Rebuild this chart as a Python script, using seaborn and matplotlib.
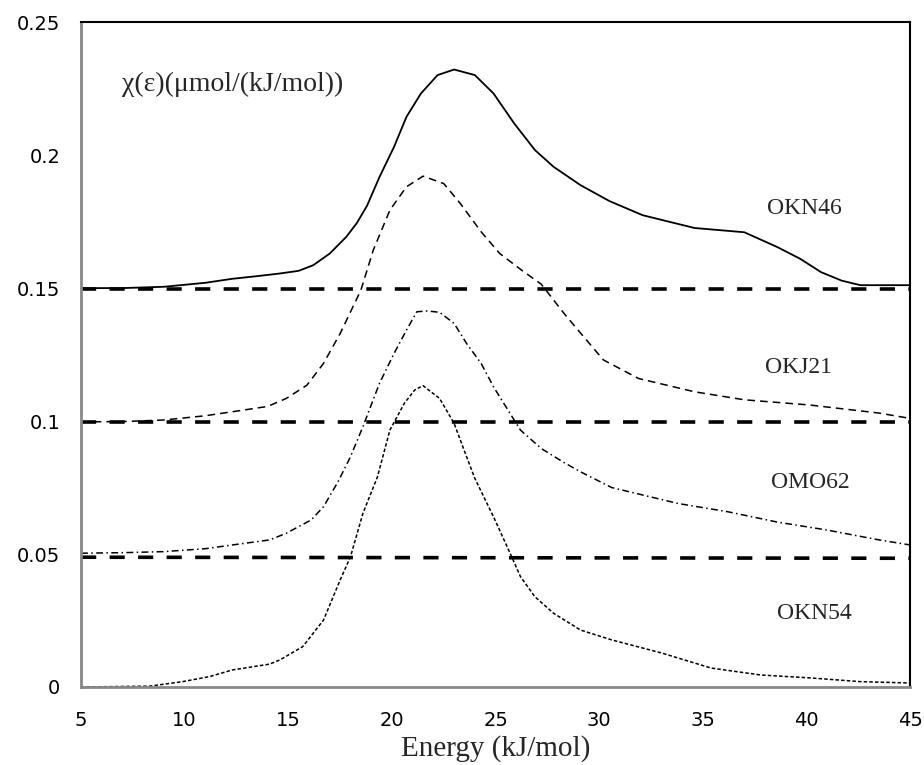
import matplotlib
matplotlib.use("Agg")
import matplotlib.pyplot as plt
import seaborn as sns
import pandas as pd

# ---- data ----
okn46_x = [5, 7, 9, 11, 12.3, 13.5, 14.6, 15.5, 16.2, 17.0, 17.8, 18.3, 18.8, 19.4, 20.1, 20.7,
           21.4, 22.2, 23.0, 24.0, 24.9, 25.9, 26.9, 27.8, 29.1, 30.5, 32.1, 34.6, 37.0, 38.6,
           39.7, 40.7, 41.7, 42.6, 45]
okn46_y = [0.150, 0.150, 0.1505, 0.152, 0.1535, 0.1545, 0.1555, 0.1565, 0.1586, 0.163, 0.1693,
           0.1744, 0.181, 0.1918, 0.2031, 0.2144, 0.2232, 0.2301, 0.2322, 0.2301, 0.2232, 0.2119,
           0.2019, 0.1956, 0.1887, 0.1827, 0.1774, 0.1726, 0.171, 0.1654, 0.161, 0.156, 0.1528,
           0.1511, 0.1511]

okj21_x = [5, 7, 9, 11, 12.3, 14, 14.9, 15.9, 16.7, 17.5, 18.5, 19.1, 19.9, 20.7, 21.5, 22.5,
           23.3, 24.3, 25.2, 26.3, 27.2, 28.3, 29.0, 30.2, 31.9, 34.6, 37.0, 40.2, 43.5, 45]
okj21_y = [0.0997, 0.0998, 0.1004, 0.102, 0.1035, 0.1055, 0.1085, 0.1135, 0.1217, 0.1329,
           0.1492, 0.1643, 0.1793, 0.1881, 0.1921, 0.1893, 0.1818, 0.1712, 0.163, 0.1565, 0.1515,
           0.1405, 0.134, 0.123, 0.116, 0.111, 0.108, 0.106, 0.103, 0.101]

omo62_x = [5, 7, 9, 11, 12.3, 14.1, 14.9, 16.1, 16.7, 17.4, 18.0, 18.6, 19.4, 20.1, 20.7, 21.2,
           21.7, 22.3, 23.0, 23.6, 24.3, 24.9, 25.6, 26.2, 27.2, 28.3, 29.1, 30.6, 33.8, 36.2,
           38.6, 41.0, 43.5, 45]
omo62_y = [0.0503, 0.0505, 0.0509, 0.052, 0.0534, 0.0553, 0.0578, 0.0628, 0.0678, 0.0772,
           0.0866, 0.0979, 0.1142, 0.1254, 0.1342, 0.1411, 0.1414, 0.1409, 0.1367, 0.1292, 0.1217,
           0.1129, 0.1041, 0.0966, 0.0897, 0.0844, 0.0809, 0.075, 0.069, 0.0659, 0.062, 0.059,
           0.0553, 0.0534]

okn54_x = [5, 8.3, 9.9, 11.2, 12.3, 14.1, 14.6, 15.7, 16.7, 17.5, 18.0, 18.6, 19.3, 19.9, 20.6,
           21.1, 21.5, 22.3, 23.0, 23.6, 24.0, 24.9, 25.7, 26.2, 26.9, 27.8, 29.1, 30.6, 33.0,
           35.4, 37.8, 40.2, 42.6, 45]
okn54_y = [0, 0.0003, 0.002, 0.0039, 0.0064, 0.0086, 0.0102, 0.0152, 0.0252, 0.0402, 0.049,
           0.0653, 0.079, 0.0966, 0.1067, 0.1117, 0.1133, 0.1085, 0.0991, 0.0866, 0.0784, 0.064,
           0.0503, 0.0415, 0.0339, 0.0277, 0.0214, 0.0177, 0.0128, 0.0071, 0.0045, 0.0034, 0.002,
           0.0015]

base_x = [5, 45]
base1_y = [0.1495, 0.1495]
base2_y = [0.0995, 0.0995]
base3_y = [0.0488, 0.0484]

series_names = ["OKN46", "OKJ21", "OMO62", "OKN54"]
label_x = [39.9, 39.6, 40.2, 40.4]
label_y = [0.180, 0.120, 0.077, 0.0278]

x_ticks = [5, 10, 15, 20, 25, 30, 35, 40, 45]
y_ticks = [0, 0.05, 0.1, 0.15, 0.2, 0.25]
y_tick_labels = ["0", "0.05", "0.1", "0.15", "0.2", "0.25"]

# ---- plot ----
sns.set_style("white")
fig = plt.figure(figsize=(9.24, 7.65), dpi=100)
ax = fig.add_axes([0.0877, 0.102, 0.8973, 0.869])

serif = ["Liberation Serif", "DejaVu Serif"]

def line(xs, ys, **kw):
    df = pd.DataFrame({"x": xs, "y": ys})
    sns.lineplot(data=df, x="x", y="y", ax=ax, color="black", sort=False,
                 estimator=None, **kw)

dash_kw = dict(linewidth=2.6, linestyle=(0, (4.2, 3.7)))
line(base_x, base1_y, **dash_kw)
line(base_x, base2_y, **dash_kw)
line(base_x, base3_y, **dash_kw)

line(okn46_x, okn46_y, linewidth=1.3, linestyle="-")
line(okj21_x, okj21_y, linewidth=1.1, linestyle=(0, (5, 3.3)))
line(omo62_x, omo62_y, linewidth=1.1, linestyle=(0, (4.5, 2.2, 1, 2.2)))
line(okn54_x, okn54_y, linewidth=1.1, linestyle=(0, (2.3, 1.4)))

for name, lx, ly in zip(series_names, label_x, label_y):
    ax.text(lx, ly, name, ha="center", va="center", fontsize=17, family=serif)

ax.text(7.0, 0.2265, "χ(ε)(μmol/(kJ/mol))", ha="left", va="center", fontsize=20, family=serif)

ax.set_xlim(5, 45)
ax.set_ylim(0, 0.25)
ax.set_xticks(x_ticks)
ax.set_xticklabels([str(t) for t in x_ticks])
ax.set_yticks(y_ticks)
ax.set_yticklabels(y_tick_labels)
ax.tick_params(axis="both", direction="out", length=7, width=1.2, color="#888888",
               labelsize=14, labelcolor="black", pad=8)
ax.tick_params(axis="x", pad=10)
ax.set_xlabel("Energy (kJ/mol)", fontsize=21, family=serif, labelpad=4)
ax.set_ylabel("")

for s in ["left", "bottom"]:
    ax.spines[s].set_color("#888888")
    ax.spines[s].set_linewidth(2)
for s in ["top", "right"]:
    ax.spines[s].set_color("black")
    ax.spines[s].set_linewidth(1.5)

fig.savefig("out.png", dpi=100)
